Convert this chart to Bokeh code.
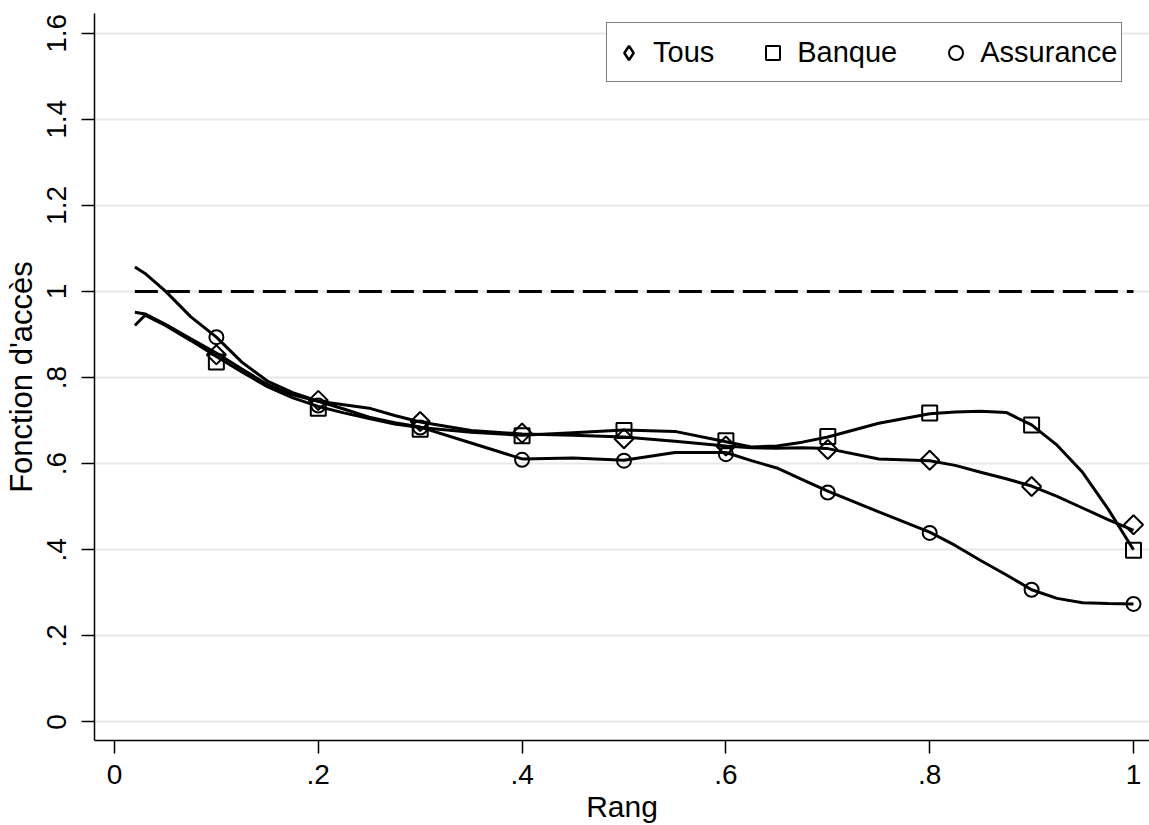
import math
from bokeh.plotting import figure
from bokeh.models import FixedTicker, Legend, LegendItem, Range1d
from bokeh.embed import file_html
from bokeh.resources import INLINE
from bokeh.core.properties import value

# ---------------- data ----------------
series_names = ["Tous", "Banque", "Assurance"]

marker_x = [0.1, 0.2, 0.3, 0.4, 0.5, 0.6, 0.7, 0.8, 0.9, 1.0]
tous_pts = [0.853, 0.747, 0.698, 0.671, 0.658, 0.641, 0.633, 0.608, 0.547, 0.458]
banque_pts = [0.836, 0.729, 0.680, 0.665, 0.677, 0.653, 0.663, 0.718, 0.690, 0.399]
assurance_pts = [0.894, 0.735, 0.684, 0.609, 0.607, 0.622, 0.533, 0.439, 0.307, 0.274]

curve_x = [0.02, 0.03, 0.05, 0.075, 0.1, 0.125, 0.15, 0.175, 0.2, 0.225, 0.25, 0.275,
           0.3, 0.35, 0.4, 0.45, 0.5, 0.55, 0.6, 0.625, 0.65, 0.675, 0.7, 0.75, 0.8,
           0.825, 0.85, 0.875, 0.9, 0.925, 0.95, 0.975, 1.0]
tous_curve = [0.952, 0.948, 0.924, 0.890, 0.857, 0.820, 0.784, 0.760, 0.745, 0.737, 0.729, 0.712,
              0.697, 0.677, 0.669, 0.666, 0.662, 0.652, 0.641, 0.637, 0.636, 0.637, 0.635, 0.611, 0.607,
              0.596, 0.580, 0.565, 0.548, 0.524, 0.497, 0.470, 0.445]
banque_curve = [0.921, 0.945, 0.921, 0.886, 0.849, 0.813, 0.779, 0.753, 0.733, 0.718, 0.705, 0.692,
                0.684, 0.673, 0.666, 0.672, 0.678, 0.675, 0.651, 0.639, 0.641, 0.650, 0.662, 0.694, 0.716,
                0.720, 0.722, 0.719, 0.690, 0.643, 0.580, 0.495, 0.400]
assurance_curve = [1.057, 1.042, 1.001, 0.941, 0.894, 0.836, 0.792, 0.765, 0.745, 0.727, 0.708, 0.695,
                   0.685, 0.648, 0.611, 0.613, 0.608, 0.626, 0.626, 0.607, 0.590, 0.563, 0.536, 0.488, 0.441,
                   0.410, 0.375, 0.342, 0.307, 0.287, 0.277, 0.275, 0.274]

ref_x = [0.02, 1.0]
ref_y = [1.0, 1.0]

x_ticks = [0, 0.2, 0.4, 0.6, 0.8, 1]
x_tick_labels = ["0", ".2", ".4", ".6", ".8", "1"]
y_ticks = [0, 0.2, 0.4, 0.6, 0.8, 1, 1.2, 1.4, 1.6]
y_tick_labels = ["0", ".2", ".4", ".6", ".8", "1", "1.2", "1.4", "1.6"]

x_title = "Rang"
y_title = "Fonction d'accès"

# ---------------- figure ----------------
FONT = "Liberation Sans"
p = figure(width=1149, height=825, output_backend="svg", toolbar_location=None, title=None,
           x_range=Range1d(-0.0196, 1.0157), y_range=Range1d(-0.0433, 1.6461),
           min_border_left=93, min_border_right=0, min_border_top=13, min_border_bottom=83)
p.outline_line_color = None
p.background_fill_color = "white"
p.border_fill_color = "white"

for ax in (p.xaxis[0], p.yaxis[0]):
    ax.axis_line_color = "black"
    ax.axis_line_width = 1.5
    ax.major_tick_line_color = "black"
    ax.major_tick_line_width = 1.5
    ax.major_tick_out = 13
    ax.major_tick_in = 0
    ax.minor_tick_line_color = None
    ax.major_label_text_font = FONT
    ax.major_label_text_font_size = "28px"
    ax.major_label_text_color = "black"
    ax.axis_label_text_font = FONT
    ax.axis_label_text_font_style = "normal"
    ax.axis_label_text_color = "black"

p.xaxis.ticker = FixedTicker(ticks=x_ticks)
p.xaxis.major_label_overrides = {t: l for t, l in zip(x_ticks, x_tick_labels)}
p.xaxis.major_label_standoff = 11
p.xaxis.axis_label = x_title
p.xaxis.axis_label_text_font_size = "30px"
p.xaxis.axis_label_standoff = 3

p.yaxis.ticker = FixedTicker(ticks=y_ticks)
p.yaxis.major_label_overrides = {t: l for t, l in zip(y_ticks, y_tick_labels)}
p.yaxis.major_label_orientation = "vertical"
p.yaxis.major_label_standoff = 15
p.yaxis.axis_label = y_title
p.yaxis.axis_label_text_font_size = "31px"
p.yaxis.axis_label_standoff = 6

p.xgrid.grid_line_color = None
p.ygrid.ticker = FixedTicker(ticks=y_ticks)
p.ygrid.grid_line_color = "#e8e8e8"
p.ygrid.grid_line_width = 2

# reference line
p.line(ref_x, ref_y, line_color="black", line_width=3, line_dash="23 9")

# smooth curves
for cy in (tous_curve, banque_curve, assurance_curve):
    p.line(curve_x, cy, line_color="black", line_width=3)

# markers
r_tous = p.scatter(marker_x, tous_pts, marker="square", angle=math.pi / 4, size=13.5,
                   fill_color=None, line_color="black", line_width=2)
r_banque = p.scatter(marker_x, banque_pts, marker="square", size=15,
                     fill_color=None, line_color="black", line_width=2)
r_assur = p.scatter(marker_x, assurance_pts, marker="circle", size=14,
                    fill_color=None, line_color="black", line_width=2)
# legend-only glyph for the diamond (legend glyphs are drawn unrotated)
r_tous_leg = p.scatter(marker_x, tous_pts, marker="diamond", size=20,
                       fill_color=None, line_color="black", line_width=2.5, visible=False)

legend = Legend(
    items=[LegendItem(label=value(series_names[0]), renderers=[r_tous_leg]),
           LegendItem(label=value(series_names[1]), renderers=[r_banque]),
           LegendItem(label=value(series_names[2]), renderers=[r_assur])],
    orientation="horizontal", location=(512, 658),
    padding=4, spacing=41, glyph_width=35, glyph_height=35, label_height=50,
    label_standoff=7, label_text_font=FONT, label_text_font_size="29px",
    label_text_color="black", border_line_color="black", border_line_width=1.5,
    background_fill_color="white", background_fill_alpha=1.0,
    inactive_fill_alpha=0.0, click_policy="none", margin=0)
p.add_layout(legend)

open("out.html", "w").write(file_html(p, INLINE))
